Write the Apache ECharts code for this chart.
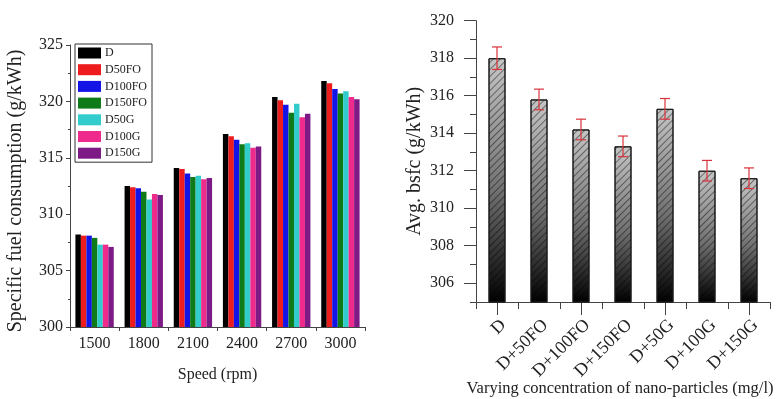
<!DOCTYPE html>
<html>
<head>
<meta charset="utf-8">
<script src="https://cdn.jsdelivr.net/npm/echarts@6/dist/echarts.min.js"></script>
<style>
  html, body { margin: 0; padding: 0; background: #fff; }
  #chart { width: 777px; height: 399px; }
</style>
</head>
<body>
<div id="chart"></div>
<script>
// Left panel: specific fuel consumption by engine speed and blend
var speeds = ['1500', '1800', '2100', '2400', '2700', '3000'];
var blendNames = ['D', 'D50FO', 'D100FO', 'D150FO', 'D50G', 'D100G', 'D150G'];
var blendColors = ['#000000', '#ee1c1c', '#1414e6', '#0f7a18', '#33cccc', '#ee2a8c', '#7d1a86'];
var sfcD      = [308.2, 312.5, 314.1, 317.1, 320.4, 321.8];
var sfcD50FO  = [308.1, 312.4, 314.0, 316.9, 320.1, 321.6];
var sfcD100FO = [308.1, 312.3, 313.6, 316.6, 319.7, 321.1];
var sfcD150FO = [307.9, 312.0, 313.3, 316.2, 319.0, 320.7];
var sfcD50G   = [307.3, 311.3, 313.4, 316.3, 319.8, 320.9];
var sfcD100G  = [307.3, 311.8, 313.1, 315.9, 318.6, 320.4];
var sfcD150G  = [307.1, 311.7, 313.2, 316.0, 318.9, 320.2];
var sfcSeries = [sfcD, sfcD50FO, sfcD100FO, sfcD150FO, sfcD50G, sfcD100G, sfcD150G];

// Right panel: average bsfc with error bars
var fuels = ['D', 'D+50FO', 'D+100FO', 'D+150FO', 'D+50G', 'D+100G', 'D+150G'];
var avgBsfc = [318.0, 315.8, 314.2, 313.3, 315.3, 312.0, 311.6];
var bsfcErr = [0.6, 0.55, 0.55, 0.55, 0.55, 0.55, 0.55];
var leftYTicks = [300, 305, 310, 315, 320, 325];
var rightYMajor = [306, 308, 310, 312, 314, 316, 318, 320];
var rightYMinor = [305, 307, 309, 311, 313, 315, 317, 319];

var serif = '"Liberation Serif", "Times New Roman", serif';
var ink = '#222';

var chart = echarts.init(document.getElementById('chart'), null, { renderer: 'canvas' });

var series = [];
blendNames.forEach(function (name, i) {
  series.push({
    name: name,
    type: 'bar',
    xAxisIndex: 0,
    yAxisIndex: 0,
    data: sfcSeries[i],
    barGap: '0%',
    barCategoryGap: '22%',
    itemStyle: { color: blendColors[i] }
  });
});

series.push({
  name: 'avg',
  type: 'bar',
  xAxisIndex: 1,
  yAxisIndex: 1,
  data: avgBsfc,
  barWidth: 17,
  itemStyle: {
    color: {
      type: 'linear', x: 0, y: 0, x2: 0, y2: 1,
      colorStops: [
        { offset: 0, color: '#c6c6c6' },
        { offset: 0.55, color: '#707070' },
        { offset: 1, color: '#000000' }
      ]
    },
    borderColor: '#1a1a1a',
    borderWidth: 1,
    decal: {
      symbol: 'rect',
      symbolSize: 1,
      dashArrayX: [1, 0],
      dashArrayY: [1, 4],
      rotation: -Math.PI / 4,
      color: 'rgba(0,0,0,0.45)'
    }
  }
});

series.push({
  name: 'err',
  type: 'custom',
  xAxisIndex: 1,
  yAxisIndex: 1,
  data: avgBsfc.map(function (v, i) { return [i, v - bsfcErr[i], v + bsfcErr[i]]; }),
  renderItem: function (params, api) {
    var lo = api.coord([api.value(0), api.value(1)]);
    var hi = api.coord([api.value(0), api.value(2)]);
    var half = 5;
    var st = { stroke: '#d8323c', lineWidth: 1.2 };
    return {
      type: 'group',
      children: [
        { type: 'line', shape: { x1: lo[0], y1: lo[1], x2: hi[0], y2: hi[1] }, style: st },
        { type: 'line', shape: { x1: hi[0] - half, y1: hi[1], x2: hi[0] + half, y2: hi[1] }, style: st },
        { type: 'line', shape: { x1: lo[0] - half, y1: lo[1], x2: lo[0] + half, y2: lo[1] }, style: st }
      ]
    };
  },
  z: 5
});

var axisLineStyle = { lineStyle: { color: '#444', width: 1 } };

chart.setOption({
  animation: false,
  backgroundColor: '#ffffff',
  textStyle: { fontFamily: serif },
  legend: {
    data: blendNames,
    orient: 'vertical',
    left: 75,
    top: 44,
    itemWidth: 23,
    itemHeight: 11,
    itemGap: 4.7,
    icon: 'rect',
    padding: [3, 5, 3, 3],
    borderColor: '#333',
    borderWidth: 1,
    textStyle: { fontFamily: serif, fontSize: 12, color: ink, padding: [0, 0, 0, -1] }
  },
  grid: [
    { left: 70, top: 45, width: 295, height: 282, outerBoundsMode: 'none' },
    { left: 476, top: 20.7, width: 294, height: 281.3, outerBoundsMode: 'none' }
  ],
  xAxis: [
    {
      type: 'category', gridIndex: 0, data: speeds,
      axisLine: axisLineStyle,
      axisTick: { show: true, length: 4, lineStyle: { color: '#444' } },
      axisLabel: { fontFamily: serif, fontSize: 16, color: ink, margin: 9 },
      name: 'Speed (rpm)', nameLocation: 'middle', nameGap: 40,
      nameTextStyle: { fontFamily: serif, fontSize: 16, color: ink }
    },
    {
      type: 'category', gridIndex: 1, data: fuels, position: 'bottom',
      axisLine: axisLineStyle,
      axisTick: { show: true, length: 7, lineStyle: { color: '#444' } },
      axisLabel: { fontFamily: serif, fontSize: 18, color: ink, rotate: 45, margin: 14, verticalAlign: 'top' },
      name: 'Varying concentration of nano-particles (mg/l)', nameLocation: 'middle', nameGap: 78,
      nameMoveOverlap: false,
      nameTextStyle: { fontFamily: serif, fontSize: 16.5, color: ink, padding: [0, 6, 0, 0] }
    },
    {
      type: 'category', gridIndex: 1, data: fuels, position: 'bottom',
      axisLine: { show: false },
      axisTick: { show: true, alignWithLabel: true, length: 13, lineStyle: { color: '#444' } },
      axisLabel: { show: false }
    }
  ],
  yAxis: [
    {
      type: 'value', gridIndex: 0, min: 300, max: 325, interval: 5,
      axisLine: { show: true, lineStyle: { color: '#444' } },
      axisTick: { show: true, length: 4, lineStyle: { color: '#444' } },
      minorTick: { show: true, splitNumber: 2, length: 2, lineStyle: { color: '#444' } },
      splitLine: { show: false },
      axisLabel: { fontFamily: serif, fontSize: 16, color: ink, margin: 7, customValues: leftYTicks },
      name: 'Specific fuel consumption (g/kWh)', nameLocation: 'middle', nameGap: 44,
      nameTextStyle: { fontFamily: serif, fontSize: 20, color: ink, padding: [0, 10, 0, 0] }
    },
    {
      type: 'value', gridIndex: 1, min: 305, max: 320, position: 'left',
      axisLine: { show: true, lineStyle: { color: '#444' } },
      axisTick: { show: true, length: 12, customValues: rightYMajor, lineStyle: { color: '#444' } },
      splitLine: { show: false },
      axisLabel: { fontFamily: serif, fontSize: 16, color: ink, margin: 22, customValues: rightYMajor },
      name: 'Avg. bsfc (g/kWh)', nameLocation: 'middle', nameGap: 51,
      nameTextStyle: { fontFamily: serif, fontSize: 20, color: ink }
    },
    {
      type: 'value', gridIndex: 1, min: 305, max: 320, position: 'left',
      axisLine: { show: false },
      axisTick: { show: true, length: 6, customValues: rightYMinor, lineStyle: { color: '#444' } },
      splitLine: { show: false },
      axisLabel: { show: false }
    }
  ],
  series: series
});
</script>
</body>
</html>
